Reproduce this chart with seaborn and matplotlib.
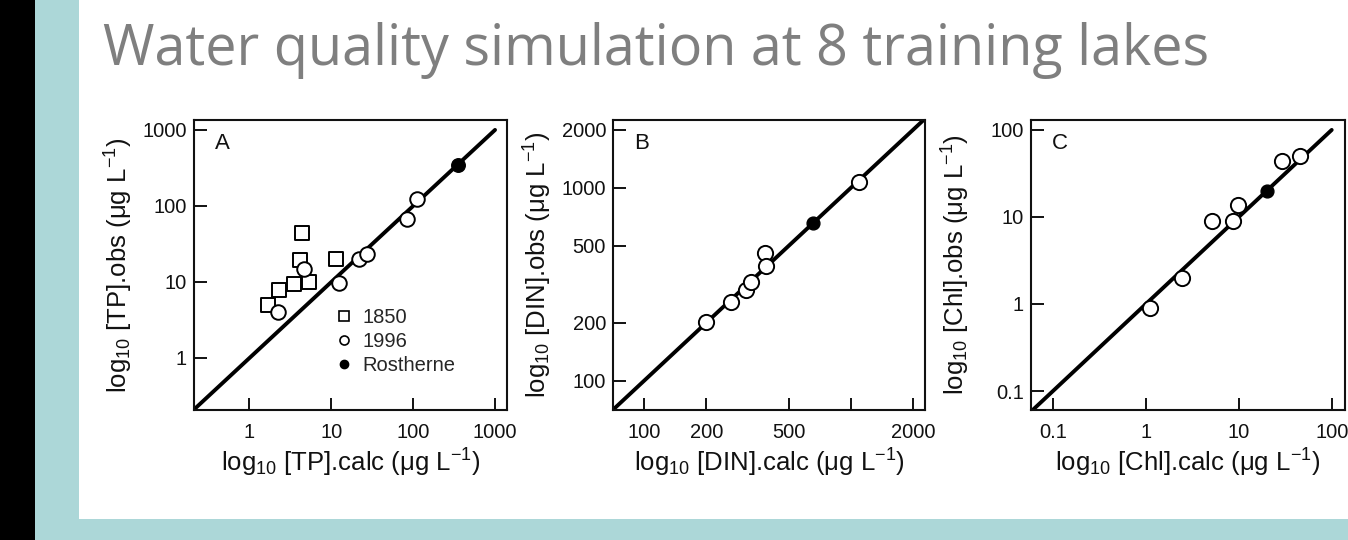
import matplotlib
matplotlib.use("Agg")
import matplotlib.pyplot as plt
from matplotlib.patches import Rectangle
from matplotlib.lines import Line2D
import seaborn as sns
import pandas as pd

# ---------------- data ----------------
title = "Water quality simulation at 8 training lakes"

tp_1850_calc = [1.7, 2.3, 3.5, 5.3, 4.1, 4.4, 11.5]
tp_1850_obs = [5.0, 7.8, 9.3, 10.0, 19.5, 44.0, 20.0]
tp_1996_calc = [2.2, 4.7, 12.5, 22.0, 27.0, 85.0, 110.0]
tp_1996_obs = [4.0, 15.0, 9.6, 20.0, 23.0, 68.0, 125.0]
tp_ros_calc = [350.0]
tp_ros_obs = [345.0]

din_calc = [200, 262, 310, 328, 384, 389, 1100]
din_obs = [202, 255, 294, 326, 458, 393, 1080]
din_ros_calc = [655]
din_ros_obs = [657]

chl_calc = [1.1, 2.45, 5.1, 8.7, 9.8, 29.0, 46.0]
chl_obs = [0.91, 2.0, 9.1, 9.1, 13.6, 44.0, 50.0]
chl_ros_calc = [20.0]
chl_ros_obs = [20.0]

line_tp = [0.21, 1000]
line_din = [70, 2250]
line_chl = [0.06, 100]

lim_tp_x, lim_tp_y = (0.21, 1400), (0.207, 1350)
lim_din_x, lim_din_y = (70.5, 2290), (70.3, 2254)
lim_chl_x, lim_chl_y = (0.058, 139), (0.0605, 130)

ticks_tp = [1, 10, 100, 1000]
ticklabels_tp = ["1", "10", "100", "1000"]
ticks_din = [100, 200, 500, 1000, 2000]
xticklabels_din = ["100", "200", "500", "", "2000"]
yticklabels_din = ["100", "200", "500", "1000", "2000"]
ticks_chl = [0.1, 1, 10, 100]
ticklabels_chl = ["0.1", "1", "10", "100"]

legend_labels = ["1850", "1996", "Rostherne"]
panel_letters = ["A", "B", "C"]
xlabels = [r"log$_{10}$ [TP].calc (μg L$^{-1}$)",
           r"log$_{10}$ [DIN].calc (μg L$^{-1}$)",
           r"log$_{10}$ [Chl].calc (μg L$^{-1}$)"]
ylabels = [r"log$_{10}$ [TP].obs (μg L$^{-1}$)",
           r"log$_{10}$ [DIN].obs (μg L$^{-1}$)",
           r"log$_{10}$ [Chl].obs (μg L$^{-1}$)"]

# ---------------- style ----------------
sns.set_theme(style="ticks")
plt.rcParams["font.family"] = ["Liberation Sans", "DejaVu Sans"]
plt.rcParams["mathtext.fontset"] = "custom"
plt.rcParams["mathtext.rm"] = "Liberation Sans"
plt.rcParams["mathtext.it"] = "Liberation Sans:italic"
plt.rcParams["mathtext.bf"] = "Liberation Sans:bold"
plt.rcParams["axes.linewidth"] = 1.5
plt.rcParams["axes.edgecolor"] = "#111111"

W, H = 1348, 540
fig = plt.figure(figsize=(W / 100, H / 100), dpi=100)
fig.patch.set_facecolor("white")

teal = "#acd7d8"
fig.add_artist(Rectangle((0, 0), 35 / W, 1, transform=fig.transFigure,
                         facecolor="black", edgecolor="none", zorder=0))
fig.add_artist(Rectangle((35 / W, 0), 44 / W, 1, transform=fig.transFigure,
                         facecolor=teal, edgecolor="none", zorder=0))
fig.add_artist(Rectangle((35 / W, 0), 1 - 35 / W, 21 / H, transform=fig.transFigure,
                         facecolor=teal, edgecolor="none", zorder=0))

t = fig.text(103 / W, 1 - 65 / H, title, fontsize=40, color="#7f7f7f",
             family="Open Sans", ha="left", va="baseline")
fig.canvas.draw()
w = t.get_window_extent().width
t.set_fontsize(40 * 1104 / w)


def box(x0, x1, y0=120, y1=410):
    return [x0 / W, 1 - y1 / H, (x1 - x0) / W, (y1 - y0) / H]


axA = fig.add_axes(box(194, 507))
axB = fig.add_axes(box(613, 925))
axC = fig.add_axes(box(1031, 1345))

tick_fs = 14.5
label_fs = 18.5
open_kw = dict(color="white", edgecolor="black", linewidth=1.4, zorder=3)
fill_kw = dict(color="black", edgecolor="black", linewidth=1.0, zorder=4)


def diag(ax, pts):
    df = pd.DataFrame({"x": pts, "y": pts})
    sns.lineplot(data=df, x="x", y="y", ax=ax, color="black", linewidth=2.8,
                 zorder=2, estimator=None)


def style(ax, xlim, ylim, xt, xtl, yt, ytl, xl, yl, letter):
    ax.set_xscale("log")
    ax.set_yscale("log")
    ax.set_xlim(*xlim)
    ax.set_ylim(*ylim)
    ax.set_xticks(xt)
    ax.set_xticklabels(xtl)
    ax.set_yticks(yt)
    ax.set_yticklabels(ytl)
    ax.minorticks_off()
    ax.tick_params(axis="both", direction="in", length=9, width=1.4,
                   labelsize=tick_fs, colors="#111111")
    ax.tick_params(axis="x", pad=9)
    ax.tick_params(axis="y", pad=5)
    ax.set_xlabel(xl, fontsize=label_fs, color="#111111", va="center")
    ax.set_ylabel(yl, fontsize=label_fs, color="#111111", va="center")
    bb = ax.get_window_extent()
    ax.xaxis.set_label_coords(0.5, -53 / bb.height)
    ax.yaxis.set_label_coords(-75 / bb.width, 0.5)
    for s in ax.spines.values():
        s.set_visible(True)
        s.set_linewidth(1.5)
    ax.text(0.068, 0.955, letter, transform=ax.transAxes, fontsize=16,
            ha="left", va="top", color="#111111")


# Panel A
diag(axA, line_tp)
sns.scatterplot(x=tp_1850_calc, y=tp_1850_obs, marker="s", s=100, ax=axA, **open_kw)
sns.scatterplot(x=tp_1996_calc, y=tp_1996_obs, marker="o", s=110, ax=axA, **open_kw)
sns.scatterplot(x=tp_ros_calc, y=tp_ros_obs, marker="o", s=95, ax=axA, **fill_kw)
style(axA, lim_tp_x, lim_tp_y, ticks_tp, ticklabels_tp, ticks_tp, ticklabels_tp,
      xlabels[0], ylabels[0], panel_letters[0])
handles = [
    Line2D([], [], marker="s", linestyle="none", markersize=7, markerfacecolor="white",
           markeredgecolor="black", markeredgewidth=1.2),
    Line2D([], [], marker="o", linestyle="none", markersize=6.5, markerfacecolor="white",
           markeredgecolor="black", markeredgewidth=1.2),
    Line2D([], [], marker="o", linestyle="none", markersize=6, markerfacecolor="black",
           markeredgecolor="black"),
]
axA.legend(handles, legend_labels, loc="upper left", bbox_to_anchor=(0.428, 0.379),
           frameon=False, fontsize=14.5, handlelength=0.8, handletextpad=0.5,
           labelspacing=0.24, borderaxespad=0)

# Panel B
diag(axB, line_din)
sns.scatterplot(x=din_calc, y=din_obs, marker="o", s=120, ax=axB, **open_kw)
sns.scatterplot(x=din_ros_calc, y=din_ros_obs, marker="o", s=85, ax=axB, **fill_kw)
style(axB, lim_din_x, lim_din_y, ticks_din, xticklabels_din, ticks_din, yticklabels_din,
      xlabels[1], ylabels[1], panel_letters[1])

# Panel C
diag(axC, line_chl)
sns.scatterplot(x=chl_calc, y=chl_obs, marker="o", s=120, ax=axC, **open_kw)
sns.scatterplot(x=chl_ros_calc, y=chl_ros_obs, marker="o", s=85, ax=axC, **fill_kw)
style(axC, lim_chl_x, lim_chl_y, ticks_chl, ticklabels_chl, ticks_chl, ticklabels_chl,
      xlabels[2], ylabels[2], panel_letters[2])

fig.savefig("out.png", dpi=100, facecolor="white")
